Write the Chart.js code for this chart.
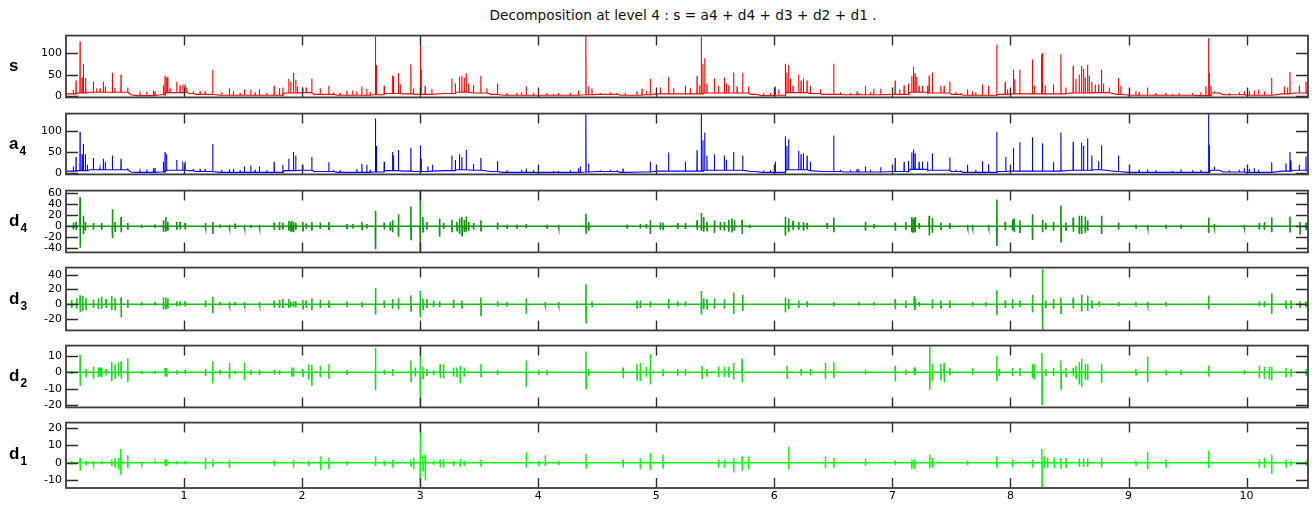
<!DOCTYPE html>
<html><head><meta charset="utf-8">
<script src="https://cdn.jsdelivr.net/npm/chart.js@4.4.1/dist/chart.umd.min.js"></script>
<style>
html,body{margin:0;padding:0;background:#fff;}
body{width:1312px;height:505px;position:relative;overflow:hidden;}
canvas{position:absolute;left:0;}
#title{position:absolute;top:9px;left:683px;transform:translateX(-50%);font:13.7px/1 "DejaVu Sans",sans-serif;color:#111;white-space:nowrap;}
.lab{position:absolute;left:9px;font:bold 17px/1 "Liberation Sans",Arial,sans-serif;color:#000;white-space:nowrap;}
.lab .sub{font-size:12px;position:relative;top:6px;margin-left:1px;}
</style></head><body>
<div id="title">Decomposition at level 4 : s = a4 + d4 + d3 + d2 + d1 .</div>
<script>
// ---------------- data ----------------
const xMax = 10.52;
const xTicks = [1,2,3,4,5,6,7,8,9,10];
const sTicks = [0,50,100];
const a4Ticks = [0,50,100];
const d4Ticks = [-40,-20,0,20,40,60];
const d3Ticks = [-20,0,20,40];
const d2Ticks = [-20,-10,0,10];
const d1Ticks = [-10,0,10,20];
const sRange = [-2.1,141.4];
const a4Range = [-2.8,140.7];
const d4Range = [-47.6,65];
const d3Range = [-35.4,49.6];
const d2Range = [-21.5,16.4];
const d1Range = [-14.6,23.2];

// s : spikes and baseline level
const sSpikeX = [0.062,0.085,0.119,0.136,0.147,0.164,0.169,0.232,0.260,0.288,0.316,0.333,0.393,0.415,0.466,0.523,0.754,0.825,0.839,0.853,0.862,0.881,0.938,0.966,0.989,1.008,1.023,1.243,1.384,1.511,1.565,1.638,1.763,1.808,1.836,1.887,1.904,1.927,1.946,1.960,2.006,2.034,2.082,2.153,2.226,2.379,2.429,2.506,2.548,2.621,2.630,2.695,2.766,2.774,2.816,2.831,2.921,2.944,3.000,3.008,3.042,3.099,3.268,3.297,3.333,3.353,3.373,3.390,3.410,3.452,3.514,3.565,3.655,3.819,3.898,4.073,4.172,4.404,4.427,4.455,4.737,4.836,4.879,4.915,4.949,5.034,5.104,5.147,5.246,5.288,5.345,5.367,5.381,5.395,5.410,5.429,5.492,5.528,5.576,5.593,5.613,5.655,5.684,5.732,5.782,6.008,6.037,6.093,6.107,6.121,6.136,6.158,6.206,6.226,6.246,6.277,6.305,6.390,6.503,6.715,6.771,6.842,6.901,7.023,7.062,7.099,7.136,7.164,7.178,7.192,7.206,7.226,7.254,7.297,7.311,7.338,7.410,7.438,7.486,7.636,7.678,7.763,7.814,7.884,7.955,7.975,8.025,8.037,8.079,8.186,8.201,8.263,8.271,8.294,8.364,8.427,8.469,8.531,8.554,8.582,8.602,8.619,8.633,8.653,8.667,8.689,8.718,8.746,8.771,8.788,8.836,8.915,8.935,9.062,9.161,9.316,9.429,9.655,9.678,9.684,9.698,9.726,9.980,10.102,10.150,10.212,10.319,10.347,10.367,10.446,10.503];
const sSpikeY = [15,37,128,44,75,43,23,35,19,19,34,23,55,20,51,21,12,26,48,44,46,19,34,26,28,28,21,62,19,16,16,16,25,19,21,41,35,55,39,23,21,21,42,19,25,14,14,23,18,139,73,25,49,46,54,28,75,19,139,62,25,18,41,30,46,48,44,54,30,26,48,19,30,8,23,8,8,141,23,19,8,12,18,12,41,21,46,19,25,19,48,26,139,76,89,30,42,25,44,30,26,56,23,55,23,23,16,76,56,73,41,25,51,37,42,37,25,16,76,8,25,18,18,37,16,26,30,48,69,54,46,25,25,25,49,56,25,25,35,16,12,28,25,121,34,16,62,40,62,86,25,98,101,26,28,98,21,71,41,51,71,64,44,74,48,34,28,28,62,30,21,43,25,12,21,8,8,23,136,55,25,12,12,16,12,43,23,21,57,25,35];
const smallX = [0.627,0.684,0.740,1.079,1.136,1.178,1.319,1.418,1.475,1.602,1.701,2.266,2.322,2.463,2.576,3.734,3.859,3.960,4.130,4.271,4.341,4.525,4.610,4.667,5.839,5.909,5.966,6.559,6.644,6.701,6.814,7.537,7.579,7.706,9.006,9.090,9.232,9.373,9.542,9.613,9.768,9.853,9.938,10.023,10.065];
const sSmallY = [6,11,14,12,12,12,10,12,8,10,8,10,8,12,10,8,10,8,6,8,14,8,10,8,6,8,8,10,8,12,10,10,8,10,8,10,8,6,8,10,10,8,10,12,14];
const baseX = [0,0.1,0.2,0.55,0.6,0.8,0.85,1.05,1.1,1.3,1.7,1.85,2.0,2.1,2.3,2.6,2.7,2.85,2.95,3.1,3.2,3.3,3.45,3.6,3.7,4.0,4.4,4.5,4.7,4.9,5.0,5.4,5.5,5.8,5.9,6.0,6.1,6.3,6.4,6.6,7.0,7.15,7.3,7.5,7.6,7.9,8.0,8.5,8.7,8.9,9.0,9.6,9.7,9.8,10.0,10.3,10.4,10.52];
const sBaseY = [6,8,10,4,2,4,9,7,5,3,3,8,9,5,3,4,7,6,5,6,7,10,8,5,3,3,4,5,3,4,6,8,8,5,2,3,9,7,5,4,5,10,8,5,3,5,6,8,9,5,3,2,8,4,3,6,8,5];

// a4
const a4SpikeX = [0.062,0.085,0.119,0.136,0.147,0.164,0.181,0.232,0.288,0.316,0.333,0.393,0.466,0.523,0.754,0.825,0.839,0.853,0.938,0.989,1.008,1.243,1.384,1.511,1.565,1.638,1.763,1.836,1.887,1.927,1.946,2.006,2.082,2.226,2.506,2.548,2.621,2.630,2.695,2.766,2.774,2.816,2.921,3.000,3.008,3.065,3.105,3.268,3.297,3.333,3.353,3.390,3.452,3.514,3.655,3.898,4.172,4.356,4.404,4.427,4.718,4.949,5.104,5.246,5.345,5.381,5.395,5.410,5.429,5.492,5.576,5.593,5.655,5.732,6.008,6.093,6.107,6.121,6.206,6.226,6.246,6.277,6.305,6.503,6.715,6.771,6.901,7.023,7.099,7.136,7.164,7.178,7.192,7.226,7.254,7.297,7.338,7.486,7.636,7.763,7.814,7.884,7.960,8.025,8.079,8.186,8.271,8.364,8.427,8.531,8.602,8.619,8.653,8.689,8.746,8.771,8.915,9.161,9.444,9.678,9.684,9.726,9.980,10.102,10.212,10.333,10.367,10.376,10.446,10.503];
const a4SpikeY = [16,38,98,45,69,45,20,36,12,34,27,42,34,12,12,27,50,45,31,27,27,69,9,16,18,16,27,20,34,50,42,20,38,26,22,20,129,64,27,50,42,55,60,66,34,16,20,42,31,45,38,55,22,36,28,11,5,16,139,23,11,27,49,27,54,142,78,96,42,45,42,32,50,42,27,87,64,80,53,45,47,42,27,89,9,16,14,36,27,29,49,56,47,27,27,27,47,37,20,28,21,98,38,60,73,85,71,26,96,74,72,64,82,42,28,66,42,9,9,142,67,15,12,9,26,23,50,30,20,40];
const a4SmallY = [5,9,12,10,10,10,8,10,7,8,7,8,7,10,8,7,8,7,5,7,12,7,8,7,5,7,7,8,7,10,8,8,7,8,7,8,7,5,7,8,8,7,8,10,12];
const a4BaseY = [5,6,8,3,2,3,7,6,4,2,2,6,7,4,2,3,6,5,4,5,6,8,7,4,2,2,3,4,2,3,5,7,7,4,2,2,8,6,4,3,4,9,7,4,2,4,5,7,8,4,2,2,7,3,2,5,7,4];

// d4 : bursts (position, upward peak, downward peak)
const d4X = [0.062,0.085,0.119,0.147,0.164,0.232,0.302,0.393,0.415,0.466,0.523,0.641,0.754,0.825,0.845,0.862,0.938,0.966,1.008,1.181,1.243,1.305,1.384,1.432,1.511,1.565,1.638,1.763,1.808,1.836,1.887,1.904,1.912,1.927,1.946,2.006,2.034,2.082,2.153,2.226,2.379,2.429,2.506,2.548,2.621,2.695,2.746,2.766,2.816,2.921,3.000,3.023,3.056,3.164,3.198,3.268,3.311,3.333,3.353,3.373,3.390,3.410,3.452,3.514,3.655,3.734,3.819,3.898,4.073,4.172,4.404,4.427,4.751,4.864,4.915,4.949,5.034,5.056,5.181,5.246,5.345,5.381,5.401,5.429,5.492,5.542,5.576,5.613,5.641,5.661,5.726,5.791,6.093,6.121,6.158,6.206,6.246,6.277,6.446,6.503,6.771,6.842,7.023,7.113,7.164,7.178,7.192,7.226,7.311,7.338,7.410,7.486,7.636,7.678,7.814,7.884,7.955,8.017,8.031,8.079,8.186,8.271,8.299,8.364,8.427,8.469,8.531,8.582,8.602,8.633,8.653,8.771,8.915,9.062,9.161,9.316,9.444,9.678,9.726,9.980,10.107,10.150,10.212,10.367,10.452,10.503];
const d4Up = [7,8,53,19,8,6,6,31,8,17,6,3,3,11,17,8,8,8,6,6,8,3,3,5,3,3,3,7,8,7,10,8,10,8,6,8,5,8,7,8,4,4,8,4,28,7,8,11,22,36,66,17,8,14,6,12,8,14,17,12,18,8,6,11,7,3,3,4,3,3,23,8,3,4,4,11,7,7,6,6,11,24,17,8,11,8,8,12,14,11,12,3,17,14,10,8,8,6,6,16,8,4,7,8,17,14,17,6,19,15,7,6,3,3,3,49,8,12,14,11,22,12,6,8,38,7,16,19,19,18,11,19,7,3,3,3,3,16,4,3,6,8,16,18,8,7];
const d4Dn = [-6,-7,-39,-14,-8,-6,-6,-22,-9,-11,-6,-3,-3,-10,-10,-8,-6,-6,-6,-3,-14,-3,-3,-5,-3,-3,-3,-7,-7,-6,-8,-10,-10,-11,-6,-8,-5,-8,-5,-7,-4,-4,-6,-4,-42,-6,-8,-11,-19,-24,-48,-10,-6,-19,-5,-11,-8,-14,-17,-11,-10,-8,-6,-8,-6,-3,-3,-4,-3,-3,-12,-8,-3,-4,-4,-14,-6,-6,-5,-5,-7,-8,-10,-8,-12,-7,-8,-10,-10,-8,-14,-3,-17,-11,-7,-6,-8,-6,-5,-11,-8,-4,-8,-6,-11,-12,-11,-5,-17,-12,-6,-5,-3,-3,-3,-36,-7,-8,-11,-12,-25,-11,-6,-8,-28,-7,-10,-14,-14,-12,-8,-14,-6,-3,-3,-3,-3,-12,-3,-3,-6,-7,-11,-10,-14,-6];

// d3
const d3X = [0.048,0.090,0.119,0.141,0.169,0.232,0.274,0.302,0.339,0.387,0.415,0.466,0.523,0.641,0.754,0.825,0.845,0.862,0.938,0.966,1.008,1.181,1.243,1.305,1.384,1.432,1.511,1.638,1.763,1.808,1.836,1.887,1.904,1.927,1.946,2.006,2.034,2.082,2.153,2.226,2.379,2.506,2.621,2.695,2.766,2.816,2.921,3.000,3.023,3.056,3.113,3.164,3.282,3.353,3.514,3.655,3.734,3.898,4.059,4.172,4.404,4.455,4.836,4.864,4.949,5.104,5.181,5.246,5.381,5.401,5.429,5.492,5.576,5.655,5.732,6.093,6.121,6.206,6.277,6.503,6.715,6.842,7.023,7.113,7.184,7.192,7.226,7.338,7.410,7.486,7.678,7.791,7.884,7.955,8.017,8.079,8.186,8.271,8.299,8.364,8.427,8.531,8.602,8.653,8.689,8.751,8.915,9.062,9.161,9.316,9.678,10.107,10.150,10.212,10.333,10.376,10.452,10.503];
const d3Up = [6,8,12,11,8,6,8,10,7,11,8,9,6,3,3,9,9,8,4,4,4,5,10,3,3,3,3,3,5,6,7,7,4,4,4,6,5,8,6,5,4,3,22,5,7,8,12,18,8,7,5,4,6,5,9,4,3,8,3,3,27,4,5,5,4,7,4,4,18,8,7,8,7,16,13,9,7,5,4,3,3,3,7,5,11,8,3,7,5,5,3,3,19,5,7,5,13,48,5,7,9,9,13,12,5,4,3,3,3,3,12,4,4,15,5,5,4,4];
const d3Dn = [-5,-6,-11,-9,-7,-5,-7,-6,-5,-8,-7,-18,-5,-2,-2,-7,-7,-6,-3,-3,-3,-4,-12,-2,-2,-2,-2,-2,-5,-5,-5,-5,-4,-4,-4,-6,-5,-8,-5,-5,-3,-3,-14,-5,-6,-7,-9,-18,-7,-5,-4,-4,-5,-5,-15,-3,-2,-13,-2,-2,-25,-3,-5,-5,-4,-6,-3,-3,-14,-7,-6,-6,-6,-13,-9,-11,-7,-5,-4,-3,-2,-2,-7,-5,-8,-6,-3,-6,-5,-5,-3,-3,-15,-5,-6,-4,-11,-36,-5,-6,-12,-6,-10,-9,-5,-3,-3,-2,-2,-2,-7,-3,-4,-13,-5,-5,-4,-3];

// d2
const d2X = [0.048,0.119,0.169,0.232,0.274,0.288,0.302,0.339,0.387,0.415,0.444,0.466,0.523,0.641,0.754,0.839,0.853,0.938,1.008,1.181,1.243,1.305,1.384,1.432,1.511,1.565,1.638,1.763,1.808,1.912,1.927,2.006,2.054,2.082,2.153,2.226,2.379,2.621,2.695,2.766,2.921,2.958,3.000,3.023,3.056,3.113,3.169,3.198,3.282,3.311,3.339,3.373,3.514,3.655,3.898,4.003,4.073,4.404,4.427,4.718,4.836,4.864,4.915,4.949,5.056,5.181,5.246,5.387,5.429,5.528,5.576,5.613,5.655,5.726,6.107,6.226,6.305,6.432,6.503,6.771,7.023,7.113,7.184,7.192,7.316,7.338,7.410,7.438,7.486,7.678,7.884,7.904,8.017,8.079,8.186,8.201,8.266,8.299,8.364,8.427,8.469,8.531,8.554,8.582,8.602,8.633,8.653,8.771,9.062,9.161,9.316,9.444,9.678,9.980,10.107,10.150,10.192,10.212,10.333,10.376,10.503];
const d2Up = [1,10.6,2,3.4,3,3,3,2,6.4,5,6,6.8,8.7,1,1,2.6,2.6,1.5,1.5,2,6.8,1.5,5.7,1,5.7,1.5,1.5,1.5,1.5,3,3,2,4.9,4.5,4,4.9,1.5,15,1.5,2,7.2,3,16.6,3.4,2,1.5,4.9,4.9,3,3,4,3,5.3,1.5,7.2,1.5,1.5,12.8,2,3,4.9,5.7,3.4,11.3,2,2,2,4,2,3.4,3.4,3.4,5.7,8.3,4,2,2,5.7,6.4,1.5,4,1.5,3,3,15.8,4.9,5.3,5.8,2.6,2.6,10.2,2,2.6,2.6,4.9,4.9,11.9,2,2.6,7.2,2.6,2.6,4,6.4,8.3,5.3,4.9,4.9,2,9.6,1.5,1.5,4,1.5,4,3.4,3.4,3.4,2.6,2,2];
const d2Dn = [-1,-8.3,-2.5,-4,-3,-2.6,-3,-2,-5.5,-3.6,-2.6,-4,-6,-1,-1,-2.6,-2.6,-1.2,-1.2,-2.2,-6.8,-1.4,-4,-1,-4.9,-1.5,-1.5,-1.5,-1.5,-2.6,-2.6,-2.6,-4.5,-8.3,-3,-4,-1.2,-11,-1.5,-2.2,-5.5,-2.6,-21.7,-3.6,-2.2,-1.5,-3.6,-3.6,-2.6,-2.6,-6.8,-2.6,-2.6,-1.5,-9.2,-1.5,-1.3,-9.8,-2.2,-3.6,-4.5,-5.5,-2.6,-7.4,-2,-2,-2,-3.6,-2.2,-3,-3,-3,-4.5,-6,-3.6,-2,-2,-4.2,-3.6,-1.3,-5.5,-1.5,-1.7,-1.7,-10.6,-5.5,-4.5,-6,-1.7,-1.7,-5.5,-2.2,-2.2,-2.2,-3.6,-4.5,-19.6,-2.2,-2.2,-10.2,-2.6,-2.6,-3.6,-7.4,-9.2,-4.5,-4.9,-6.4,-1.7,-6,-1.3,-1.3,-2.6,-1.3,-3.6,-4,-4.5,-4.9,-2.6,-2.2,-1.7];

// d1
const d1X = [0.048,0.119,0.169,0.232,0.302,0.387,0.415,0.444,0.463,0.523,0.641,0.754,0.839,0.853,0.938,1.008,1.181,1.243,1.384,1.763,1.927,2.054,2.158,2.226,2.379,2.621,2.695,2.766,2.921,2.944,3.000,3.023,3.042,3.113,3.169,3.198,3.282,3.339,3.373,3.514,3.898,4.003,4.059,4.172,4.404,4.718,4.864,4.949,5.056,5.528,5.576,5.655,5.726,5.782,6.121,6.432,6.503,6.771,7.023,7.164,7.184,7.316,7.338,7.636,7.884,8.017,8.186,8.266,8.285,8.314,8.370,8.427,8.469,8.582,8.619,8.653,8.771,9.062,9.161,9.316,9.678,10.107,10.150,10.212,10.333,10.376,10.503];
const d1Up = [1,2.8,1,1,1,1.9,2.8,2.8,8,4.3,0.5,0.5,1.9,1.9,1,1,3.1,1.9,1.9,1.3,1.9,1.3,3.7,3.1,1,3.7,1.3,1.9,1.9,2.8,24,4.3,4.6,1.3,1.9,1.9,1.3,2,1.3,1.9,6.1,1.3,4.3,1.3,5,1.9,2.8,5.6,4.6,1.9,1.9,2.8,3.7,3.7,9.3,3.7,2.8,2.4,1.3,1.9,1.9,4.6,2.8,1.3,3.7,1.9,1.9,8,3.7,3.1,3.1,2.8,2.8,2.4,2.4,2.4,2.8,1.3,6.1,1.9,6.9,1.9,3.1,4.6,1.9,1.3,1.3];
const d1Dn = [-1,-4.6,-1,-1,-1,-1.9,-2.4,-3.7,-6.9,-3.1,-0.5,-0.5,-1.9,-1.9,-1,-1,-3.7,-2.4,-3.1,-1.9,-2.8,-1.9,-4.3,-3.7,-1,-1.9,-1.9,-2.8,-1.9,-3.7,-14.8,-4.6,-10.2,-1.3,-2.8,-2.8,-1.9,-2.4,-1.9,-1.9,-2.8,-1.9,-1.9,-1.3,-3.1,-2.8,-3.7,-4.3,-3.1,-2.8,-2.8,-5.6,-4.6,-3.7,-3.7,-3.1,-2.8,-1.9,-1.3,-3.7,-3.7,-3.1,-2.8,-1.3,-2.8,-2.4,-2.8,-14.8,-2.8,-3.1,-3.1,-3.1,-2.8,-2.4,-2.4,-2.4,-2.8,-1.3,-3.7,-2.4,-3.1,-2.8,-3.1,-6.5,-2.4,-1.3,-1.3];

// ---------------- build point tables ----------------
const EPS = 0.0015;
function buildPositive(spX, spY, bX, bY){
  const pts = bX.map((x,i)=>({x:x, y:bY[i]}));
  const foot = x => { let v = bY[0]; for (let i=0;i<bX.length;i++){ if (bX[i] <= x) v = bY[i]; else break; } return v; };
  spX.forEach((x,i)=>{ const f = foot(x); pts.push({x:x-EPS,y:f},{x:x,y:spY[i]},{x:x+EPS,y:f}); });
  pts.sort((a,b)=>a.x-b.x);
  return pts;
}
function buildDetail(X, U, D){
  const pts = [{x:0,y:0}];
  X.forEach((x,i)=>{ pts.push({x:x-EPS,y:0},{x:x,y:U[i]},{x:x+EPS,y:D[i]},{x:x+2*EPS,y:0}); });
  pts.push({x:xMax,y:0});
  pts.sort((a,b)=>a.x-b.x);
  return pts;
}

const panels = [
  {top:33,  h:67, color:'#ff0000', lw:1.1, data:buildPositive(sSpikeX.concat(smallX), sSpikeY.concat(sSmallY), baseX, sBaseY),   range:sRange,  ticks:sTicks,  main:'s', sub:''},
  {top:111, h:66, color:'#0000ff', lw:1.1, data:buildPositive(a4SpikeX.concat(smallX), a4SpikeY.concat(a4SmallY), baseX, a4BaseY), range:a4Range, ticks:a4Ticks, main:'a', sub:'4'},
  {top:188, h:67, color:'#109610', lw:1.6, data:buildDetail(d4X,d4Up,d4Dn), range:d4Range, ticks:d4Ticks, main:'d', sub:'4'},
  {top:265, h:68, color:'#1ac01a', lw:1.6, data:buildDetail(d3X,d3Up,d3Dn), range:d3Range, ticks:d3Ticks, main:'d', sub:'3'},
  {top:343, h:67, color:'#18e018', lw:1.5, data:buildDetail(d2X,d2Up,d2Dn), range:d2Range, ticks:d2Ticks, main:'d', sub:'2'},
  {top:420, h:68, color:'#10fa10', lw:1.5, data:buildDetail(d1X,d1Up,d1Dn), range:d1Range, ticks:d1Ticks, main:'d', sub:'1', bottom:true}
];

const boxPlugin = {
  id:'box',
  afterDraw(chart){
    const ctx = chart.ctx, a = chart.chartArea, xs = chart.scales.x, ys = chart.scales.y;
    ctx.save();
    ctx.strokeStyle = '#2e2e2e'; ctx.lineWidth = 1.4;
    ctx.beginPath();
    xTicks.forEach(v=>{
      const px = Math.round(xs.getPixelForValue(v)) + 0.5;
      ctx.moveTo(px, a.top); ctx.lineTo(px, a.top + 10);
      ctx.moveTo(px, a.bottom); ctx.lineTo(px, a.bottom - 10);
    });
    ys.ticks.forEach(t=>{
      const py = Math.round(ys.getPixelForValue(t.value)) + 0.5;
      ctx.moveTo(a.left, py); ctx.lineTo(a.left + 12, py);
      ctx.moveTo(a.right, py); ctx.lineTo(a.right - 12, py);
    });
    ctx.stroke();
    ctx.strokeStyle = '#3d3d3d'; ctx.lineWidth = 1.8;
    ctx.strokeRect(a.left, a.top, a.right - a.left, a.bottom - a.top);
    ctx.restore();
  }
};

const PAD = 8, XAX = 17;
const tickFont = {family:'DejaVu Sans', size:11};
panels.forEach(p=>{
  const cv = document.createElement('canvas');
  const H = p.h + PAD + (p.bottom ? XAX : PAD);
  cv.width = 1312; cv.height = H;
  cv.style.top = (p.top - PAD) + 'px';
  cv.style.width = '1312px'; cv.style.height = H + 'px';
  document.body.appendChild(cv);
  new Chart(cv, {
    type:'line',
    data:{datasets:[{data:p.data, borderColor:p.color, borderWidth:p.lw, pointRadius:0, tension:0, fill:false}]},
    options:{
      responsive:false, animation:false, events:[], devicePixelRatio:1,
      layout:{padding:{left:0, right:4, top:PAD, bottom:p.bottom ? 0 : PAD}},
      plugins:{legend:{display:false}, tooltip:{enabled:false}},
      scales:{
        x:{type:'linear', min:0, max:xMax, display:!!p.bottom,
           grid:{display:false, drawTicks:false}, border:{display:false},
           ticks:{font:tickFont, color:'#000', padding:2, autoSkip:false, maxRotation:0},
           afterBuildTicks:s=>{ s.ticks = xTicks.map(v=>({value:v})); },
           afterFit:s=>{ if (p.bottom) s.height = XAX; }},
        y:{type:'linear', min:p.range[0], max:p.range[1],
           grid:{display:false, drawTicks:false}, border:{display:false},
           ticks:{font:tickFont, color:'#000', padding:4, autoSkip:false},
           afterBuildTicks:s=>{ s.ticks = p.ticks.map(v=>({value:v})); },
           afterFit:s=>{ s.width = 66; }}
      }
    },
    plugins:[boxPlugin]
  });
  const lab = document.createElement('div');
  lab.className = 'lab';
  const c = p.top + p.h/2;
  lab.style.top = (c + 5 - 14.4) + 'px';
  const m = document.createElement('span'); m.textContent = p.main; lab.appendChild(m);
  if (p.sub){ const s = document.createElement('span'); s.className='sub'; s.textContent = p.sub; lab.appendChild(s); }
  document.body.appendChild(lab);
});
</script>
</body></html>
